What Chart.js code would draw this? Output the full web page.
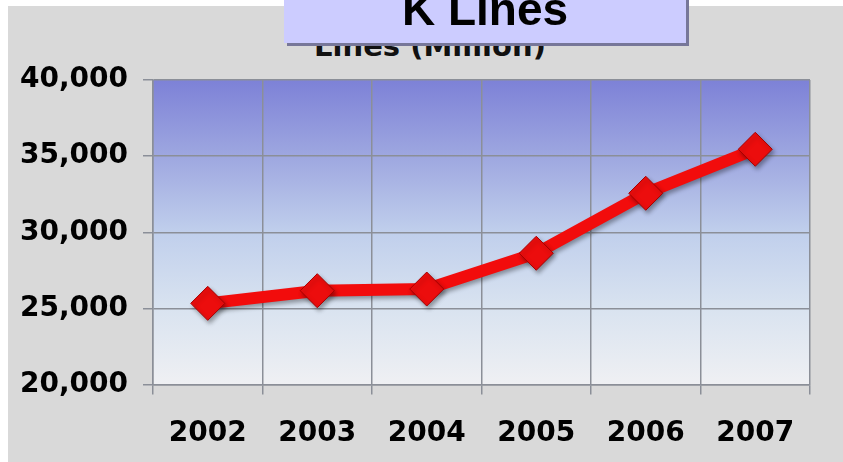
<!DOCTYPE html>
<html>
<head>
<meta charset="utf-8">
<script src="https://cdn.jsdelivr.net/npm/chart.js@4"></script>
<style>
  html, body { margin: 0; padding: 0; background: #ffffff; width: 843px; height: 462px; overflow: hidden; }
  #bg { position: absolute; left: 8px; top: 6px; right: 0; bottom: 0; background: #d9d9d9; }
  #wrap { position: absolute; left: 0; top: 0; width: 843px; height: 462px; }
  #sub { position: absolute; left: 230px; width: 400px; top: 29px; text-align: center;
         font: bold 29px "DejaVu Sans", sans-serif; color: #111; white-space: nowrap; }
  #title { position: absolute; left: 284px; top: -20px; width: 402px; height: 63px;
           background: #ccccff; box-shadow: 3px 3px 0 #777799; }
  #title span { position: absolute; left: 0; right: 0; bottom: 11px; text-align: center;
           font: bold 46px "Liberation Sans", Arial, sans-serif; color: #000; line-height: 46px; }
</style>
</head>
<body>
<div id="bg"></div>
<div id="sub">Lines (Million)</div>
<div id="wrap"><canvas id="c" width="843" height="462"></canvas></div>
<div id="title"><span>K Lines</span></div>
<script>
const years = ['2002', '2003', '2004', '2005', '2006', '2007'];
const linesK = [25330, 26160, 26270, 28620, 32560, 35450];
const yTicks = [20000, 25000, 30000, 35000, 40000];

const gridColor = '#8b8f98';

const plotBg = {
  id: 'plotBg',
  beforeDraw(chart) {
    const { ctx, chartArea: a } = chart;
    const g = ctx.createLinearGradient(0, a.top, 0, a.bottom);
    g.addColorStop(0, '#7d81d7');
    g.addColorStop(0.25, '#9ea7e0');
    g.addColorStop(0.5, '#c0cfec');
    g.addColorStop(0.75, '#d9e3f0');
    g.addColorStop(1, '#eff0f3');
    ctx.save();
    ctx.fillStyle = g;
    ctx.fillRect(a.left, a.top, a.right - a.left, a.bottom - a.top);
    ctx.restore();
  }
};

const shadow = {
  id: 'shadow',
  beforeDatasetsDraw(chart) {
    const ctx = chart.ctx;
    ctx.save();
    ctx.shadowColor = 'rgba(0,0,0,0.35)';
    ctx.shadowBlur = 4;
    ctx.shadowOffsetX = 2;
    ctx.shadowOffsetY = 3;
  },
  afterDatasetsDraw(chart) {
    chart.ctx.restore();
  }
};

new Chart(document.getElementById('c'), {
  type: 'line',
  data: {
    labels: years,
    datasets: [{
      data: linesK,
      borderColor: '#f20c0c',
      borderWidth: 12,
      pointStyle: 'rectRot',
      pointRadius: 17,
      pointHoverRadius: 17,
      pointBackgroundColor: '#ec0d0d',
      pointBorderColor: '#a80000',
      pointBorderWidth: 1,
      tension: 0,
      clip: false
    }]
  },
  options: {
    responsive: false,
    animation: false,
    events: [],
    layout: { padding: { top: 80, right: 33, left: 0, bottom: 0 } },
    plugins: { legend: { display: false }, tooltip: { enabled: false }, title: { display: false } },
    scales: {
      x: {
        offset: true,
        grid: { offset: true, color: gridColor, lineWidth: 1.5, tickLength: 10, tickColor: gridColor, tickWidth: 1.5 },
        border: { color: gridColor, width: 1.5 },
        ticks: { color: '#000', padding: 22, font: { family: 'DejaVu Sans', weight: 'bold', size: 28 } },
        afterFit(s) { s.height = 77.5; }
      },
      y: {
        min: 20000, max: 40000,
        afterBuildTicks(s) { s.ticks = yTicks.map(v => ({ value: v })); },
        grid: { color: gridColor, lineWidth: 1.5, tickLength: 10, tickColor: gridColor, tickWidth: 1.5 },
        border: { color: gridColor, width: 1.5 },
        ticks: {
          color: '#000', padding: 15,
          font: { family: 'DejaVu Sans', weight: 'bold', size: 28 },
          callback: v => Number(v).toLocaleString('en-US')
        },
        afterFit(s) { s.width = 153; }
      }
    }
  },
  plugins: [plotBg, shadow]
});
</script>
</body>
</html>
